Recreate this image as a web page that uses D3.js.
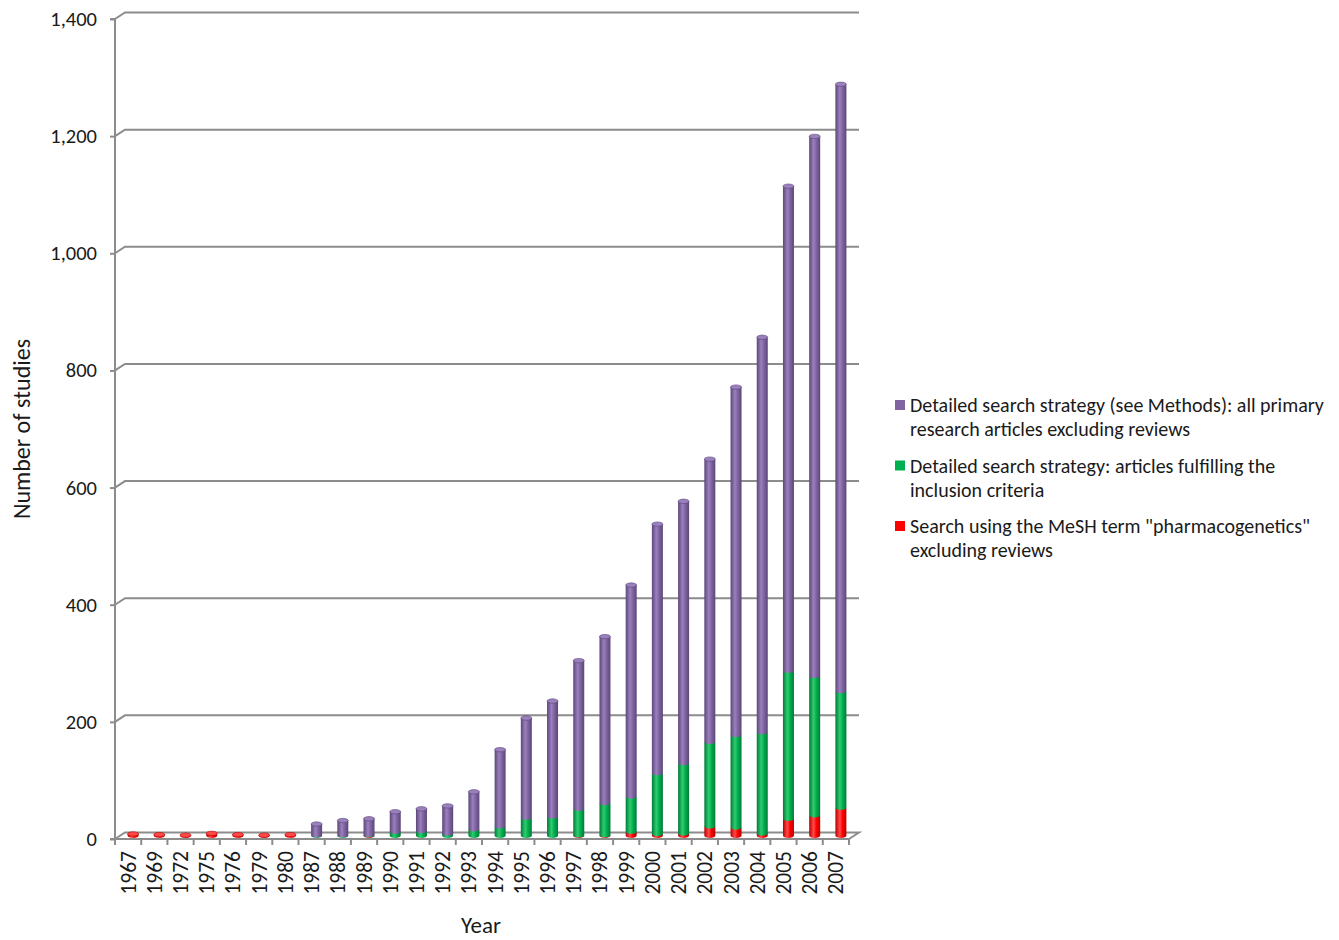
<!DOCTYPE html>
<html>
<head>
<meta charset="utf-8">
<script src="https://cdn.jsdelivr.net/npm/d3@7"></script>
<style>
  body { margin:0; background:#fff; }
  svg text { font-family: Calibri, Carlito, Lato, sans-serif; fill:#1a1a1a; }
</style>
</head>
<body>
<svg id="chart" width="1339" height="940"></svg>
<script>
// categories
const years = ['1967','1969','1972','1975','1976','1979','1980','1987','1988','1989','1990','1991','1992','1993',
               '1994','1995','1996','1997','1998','1999','2000','2001','2002','2003','2004','2005','2006','2007'];
// segment values (stacked, bottom to top)
const meshValues     = [3,2,1,4,2,1,2, 0,0,1,0,0,0,0, 0,0,0,1,1,7,3,4,16,14,4,29,35,48];
const includedValues = [0,0,0,0,0,0,0, 1,1,1,7,8,4,11, 16,31,33,45,55,60,104,120,144,158,173,253,238,199];
const primaryValues  = [0,0,0,0,0,0,0, 19,25,27,34,38,47,64, 131,170,197,253,284,361,425,447,483,594,674,827,921,1036];
const yTicks = [0,200,400,600,800,1000,1200,1400];

const series = [
  {key:'mesh',     values: meshValues,     color:'#ff0000', dark:'#b80000', light:'#ff4a4a',
   label:['Search using the MeSH term "pharmacogenetics"','excluding reviews']},
  {key:'included', values: includedValues, color:'#00b050', dark:'#007a36', light:'#2fcc70',
   label:['Detailed search strategy: articles fulfilling the','inclusion criteria']},
  {key:'primary',  values: primaryValues,  color:'#8064a2', dark:'#5b4678', light:'#9a80bd',
   label:['Detailed search strategy (see Methods): all primary','research articles excluding reviews']}
];

const svg = d3.select('#chart');
const depth = {dx:10, dy:-6.5};
const axisColor = '#8c8c8c';

const x = d3.scaleBand().domain(years).range([115, 849]);
const y = d3.scaleLinear().domain([0,1400]).range([839, 19]);

// gradients for the cylinders
const defs = svg.append('defs');
series.forEach(s => {
  const g = defs.append('linearGradient').attr('id','grad-'+s.key).attr('x1','0%').attr('x2','100%');
  g.append('stop').attr('offset','0%').attr('stop-color',s.dark);
  g.append('stop').attr('offset','40%').attr('stop-color',s.light);
  g.append('stop').attr('offset','65%').attr('stop-color',s.color);
  g.append('stop').attr('offset','100%').attr('stop-color',s.dark);
});

// back wall gridlines with their slant to the front axis
const grid = svg.append('g');
yTicks.forEach(t => {
  if (t === 0) return;
  grid.append('path')
    .attr('d', `M${x.range()[0]},${y(t)} l${depth.dx},${depth.dy} L${x.range()[1]+depth.dx},${y(t)+depth.dy}`)
    .attr('fill','none').attr('stroke',axisColor).attr('stroke-width',2);
});

// floor
svg.append('path')
  .attr('d', `M${x.range()[0]},${y(0)} l${depth.dx},${depth.dy} L${x.range()[1]+depth.dx},${y(0)+depth.dy} L${x.range()[1]},${y(0)}`)
  .attr('fill','none').attr('stroke',axisColor).attr('stroke-width',2);

// y axis
const yAxis = svg.append('g').attr('transform',`translate(${x.range()[0]},0)`)
  .call(d3.axisLeft(y).tickValues(yTicks).tickSize(5).tickPadding(13).tickFormat(d3.format(',')));
yAxis.select('.domain').attr('d',`M-5,${y(1400)}H0V${y(0)+6}`).attr('stroke',axisColor).attr('stroke-width',2);
yAxis.selectAll('.tick line').attr('stroke',axisColor).attr('stroke-width',2);
yAxis.selectAll('.tick text').style('font-size','20.5px').attr('fill','#1a1a1a');

// x axis
const xAxis = svg.append('g').attr('transform',`translate(0,${y(0)})`)
  .call(d3.axisBottom(x).tickSize(0).tickPadding(0));
xAxis.select('.domain').attr('d',`M${x.range()[0]-5},0H${x.range()[1]}`).attr('stroke',axisColor).attr('stroke-width',2);
xAxis.selectAll('.tick text')
  .attr('transform','rotate(-90)').attr('x',-12).attr('y',0).attr('dy','0.35em')
  .style('text-anchor','end').style('font-size','21.5px').attr('fill','#1a1a1a');
years.forEach((yr,i) => {
  xAxis.append('line').attr('x1',x(yr)+x.bandwidth()).attr('x2',x(yr)+x.bandwidth())
    .attr('y1',0).attr('y2',6).attr('stroke',axisColor).attr('stroke-width',2);
});

// stacked cylinders
const stack = d3.stack().keys(series.map(s=>s.key))(years.map((yr,i)=>{
  const o = {year:yr};
  series.forEach(s => o[s.key] = s.values[i]);
  return o;
}));
const barW = 11, ry = 2.2;
const bars = svg.append('g').attr('transform',`translate(${depth.dx/2},${depth.dy/2})`);
stack.forEach((layer, si) => {
  const s = series[si];
  layer.forEach((d, i) => {
    if (d[1] - d[0] <= 0) return;
    const cx = x(years[i]) + x.bandwidth()/2;
    const y0 = y(d[0]), y1 = y(d[1]);
    const g = bars.append('g');
    g.append('path')
      .attr('d',`M${cx-barW/2},${y1} L${cx-barW/2},${y0} A${barW/2},${ry} 0 0 0 ${cx+barW/2},${y0} L${cx+barW/2},${y1} Z`)
      .attr('fill',`url(#grad-${s.key})`);
    // top cap only on the highest non-empty segment
    const above = stack.slice(si+1).some(l => l[i][1]-l[i][0] > 0);
    if (!above) {
      g.append('ellipse').attr('cx',cx).attr('cy',y1).attr('rx',barW/2).attr('ry',ry)
        .attr('fill',s.light).attr('stroke',s.dark).attr('stroke-width',0.6);
    }
  });
});

// axis titles
svg.append('text').attr('x',481).attr('y',933).attr('text-anchor','middle')
  .style('font-size','23px').text('Year');
svg.append('text').attr('transform','translate(30,429) rotate(-90)').attr('text-anchor','middle')
  .style('font-size','24px').text('Number of studies');

// legend
const legend = svg.append('g').attr('transform','translate(895,405)');
series.slice().reverse().forEach((s, i) => {
  const g = legend.append('g').attr('transform',`translate(0,${i*60.5})`);
  g.append('rect').attr('x',0).attr('y',-5).attr('width',10).attr('height',10).attr('fill',s.color);
  s.label.forEach((line, j) => {
    g.append('text').attr('x',15).attr('y',j*24).attr('dy','0.35em')
      .style('font-size','20px').text(line);
  });
});
</script>
</body>
</html>
